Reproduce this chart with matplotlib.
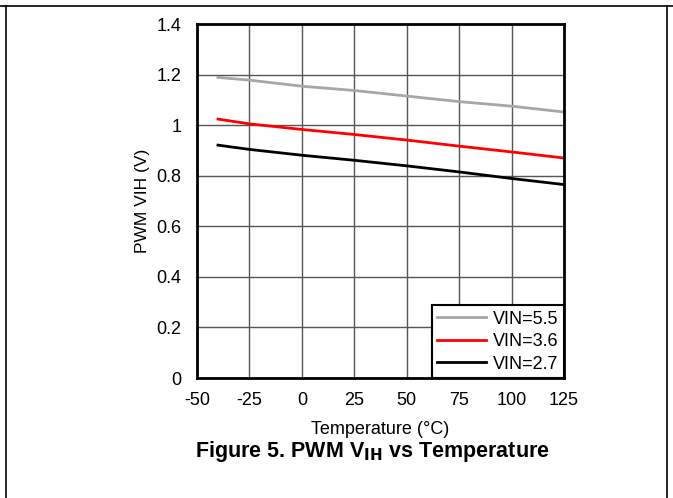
import matplotlib.pyplot as plt
from matplotlib.lines import Line2D

plt.rcParams['font.family'] = ['Liberation Sans', 'DejaVu Sans']
plt.rcParams['axes.unicode_minus'] = False

temps = [-40, -25, 0, 25, 50, 75, 100, 125]
vin_55 = [1.189, 1.178, 1.154, 1.137, 1.115, 1.093, 1.075, 1.052]
vin_36 = [1.024, 1.005, 0.983, 0.963, 0.941, 0.917, 0.894, 0.870]
vin_27 = [0.921, 0.904, 0.881, 0.861, 0.839, 0.815, 0.789, 0.765]

x_ticks = [-50, -25, 0, 25, 50, 75, 100, 125]
y_ticks = [0, 0.2, 0.4, 0.6, 0.8, 1.0, 1.2, 1.4]
y_labels = ['0', '0.2', '0.4', '0.6', '0.8', '1', '1.2', '1.4']

fig = plt.figure(figsize=(6.73, 4.98), dpi=100)
ax = fig.add_axes([197 / 673, 1 - 378 / 498, 367 / 673, 354 / 498])

ax.plot(temps, vin_55, color='#a6a6a6', lw=2, label='VIN=5.5')
ax.plot(temps, vin_36, color='#ff0000', lw=2, label='VIN=3.6')
ax.plot(temps, vin_27, color='#000000', lw=2, label='VIN=2.7')

ax.set_xlim(-50, 125)
ax.set_ylim(0, 1.4)
ax.set_xticks(x_ticks)
ax.set_yticks(y_ticks)
ax.set_yticklabels(y_labels)
ax.tick_params(length=0, labelsize=13)
ax.tick_params(axis='x', pad=10)
ax.tick_params(axis='y', pad=11)
ax.grid(True, color='#555555', lw=1)
ax.set_axisbelow(True)
for s in ax.spines.values():
    s.set_linewidth(2)
    s.set_color('black')

ax.set_xlabel('Temperature (°C)', fontsize=13, labelpad=9)
ax.set_ylabel('PWM VIH (V)', fontsize=12.5, labelpad=5)

leg = ax.legend(loc='lower right', fontsize=13, frameon=True, fancybox=False,
                borderaxespad=0, handlelength=2.7, handletextpad=0.4,
                labelspacing=0.3, borderpad=0.3)
leg.get_frame().set_edgecolor('black')
leg.get_frame().set_linewidth(1.5)
leg.get_frame().set_alpha(1)

fig.text(372 / 673, 1 - 451 / 498, 'Figure 5. PWM V$_{\\mathbf{IH}}$ vs Temperature',
         ha='center', va='center', fontsize=15.5, fontweight='bold')

# datasheet frame
fig.add_artist(Line2D([0, 1], [1 - 6 / 498, 1 - 6 / 498], color='black', lw=1.2))
fig.add_artist(Line2D([6 / 673, 6 / 673], [0, 1 - 6 / 498], color='black', lw=1.2))
fig.add_artist(Line2D([667 / 673, 667 / 673], [0, 1 - 6 / 498], color='black', lw=1.2))

fig.savefig('out.png', dpi=100)
